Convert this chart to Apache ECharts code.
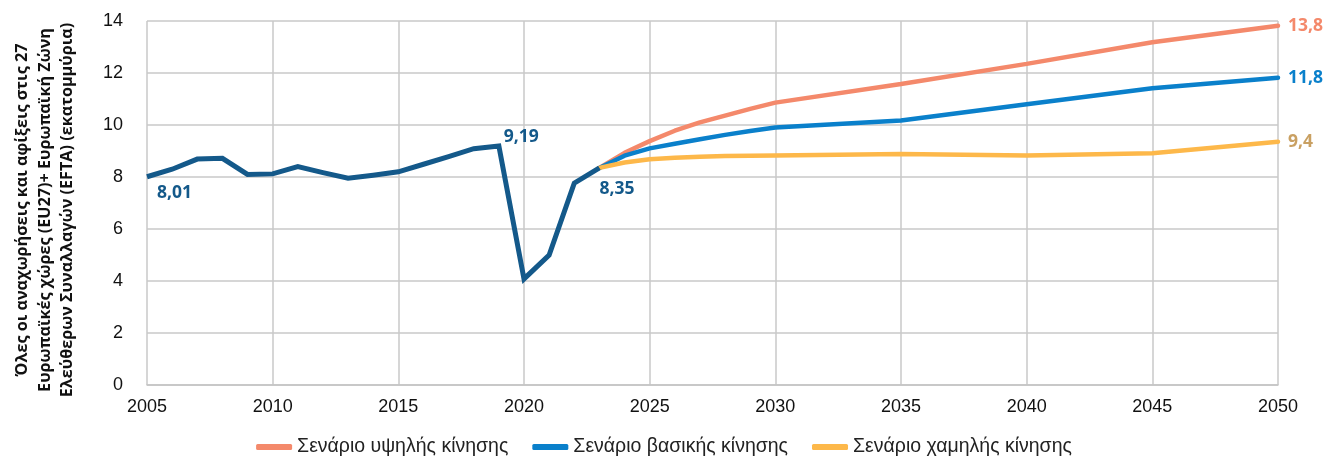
<!DOCTYPE html>
<html><head><meta charset="utf-8">
<script src="https://cdn.jsdelivr.net/npm/echarts@6/dist/echarts.min.js"></script>
<style>html,body{margin:0;padding:0;background:#fff}#c{width:1328px;height:462px}</style>
</head><body><div id="c"></div>
<script>
const histYears = [2005,2006,2007,2008,2009,2010,2011,2012,2013,2014,2015,2016,2017,2018,2019,2020,2021,2022,2023];
const histValues = [8.01,8.30,8.69,8.72,8.10,8.12,8.40,8.17,7.95,8.07,8.20,8.49,8.78,9.09,9.19,4.08,5.00,7.76,8.35];
const scenYears = [2023,2024,2025,2026,2027,2028,2029,2030,2035,2040,2045,2050];
const highValues = [8.35,8.93,9.38,9.78,10.10,10.36,10.62,10.86,11.58,12.35,13.18,13.82];
const baseValues = [8.35,8.82,9.10,9.28,9.45,9.62,9.77,9.90,10.17,10.80,11.41,11.82];
const lowValues  = [8.35,8.56,8.68,8.74,8.78,8.81,8.82,8.83,8.88,8.83,8.91,9.36];
const seriesNames = ['Σενάριο υψηλής κίνησης','Σενάριο βασικής κίνησης','Σενάριο χαμηλής κίνησης'];
const endLabels = ['13,8','11,8','9,4'];
const yTitle = ['Όλες οι αναχωρήσεις και αφίξεις στις 27','Ευρωπαϊκές χώρες (EU27)+ Ευρωπαϊκή Ζώνη','Ελεύθερων Συναλλαγών (EFTA) (εκατομμύρια)'];
const histLabelOffsets = {2005:[10,7],2019:[5,-18],2023:[0,12]};

const fmt = v => String(v).replace('.', ',');
const FONT = "'Liberation Sans', Arial, sans-serif";
const LBLFONT = "'Open Sans', sans-serif";
const HIST = '#14598A', HIGH = '#F4896B', BASE = '#0A80CB', LOW = '#FDB84A', LOWLBL = '#C9A062';

function histData(){
  return histYears.map((y,i)=>{
    const d = {value:[y,histValues[i]]};
    if (histLabelOffsets[y]) {
      d.label = {show:true, formatter: fmt(histValues[i].toFixed(2)), color:HIST, fontWeight:'bold', fontSize:17.5, fontFamily:LBLFONT,
        position: histLabelOffsets[y], align:'left'};
    }
    return d;
  });
}
function scenData(vals, color, lab){
  return scenYears.map((y,i)=>{
    const d = {value:[y,vals[i]]};
    if (i===vals.length-1) d.label = {show:true, position:'right', distance:10, formatter: lab, color:color, fontWeight:'bold', fontSize:17.5, fontFamily:LBLFONT};
    return d;
  });
}
const chart = echarts.init(document.getElementById('c'));
const lineCommon = {type:'line', showSymbol:true, symbol:'circle', symbolSize:0, z:3};
chart.setOption({
  animation:false,
  grid:{left:147, right:50, top:21, bottom:77},
  legend:{bottom:0, left:'center', itemWidth:36, itemHeight:6, itemGap:24, icon:'roundRect',
    textStyle:{fontFamily:FONT, fontSize:19.5, color:'#222'}, data:seriesNames},
  xAxis:{type:'value', min:2005, max:2050, interval:5,
    axisLine:{show:true, lineStyle:{color:'#C4C4C4', width:1.5}}, axisTick:{show:false},
    splitLine:{show:true, lineStyle:{color:'#C8C8C8', width:1.5}},
    axisLabel:{fontFamily:FONT, fontSize:18, color:'#111', margin:13, formatter:v=>String(v)}},
  yAxis:{type:'value', min:0, max:14, interval:2,
    axisLine:{show:false}, axisTick:{show:false},
    splitLine:{show:true, lineStyle:{color:'#C8C8C8', width:1.5}},
    axisLabel:{fontFamily:FONT, fontSize:18, color:'#111', margin:24}},
  graphic:[{type:'text', rotation:Math.PI/2,
    style:{text:yTitle.join('\n'), font:"bold 16.2px 'Open Sans', sans-serif", fill:'#111', lineHeight:22.5, textAlign:'center', textVerticalAlign:'middle'},
    x:45, y:210}],
  series:[
    Object.assign({}, lineCommon, {name:'hist', data:histData(), lineStyle:{width:5, color:HIST, join:'miter'}, itemStyle:{color:HIST}, z:4}),
    Object.assign({}, lineCommon, {name:seriesNames[0], data:scenData(highValues,HIGH,endLabels[0]), lineStyle:{width:4.5, color:HIGH, cap:'round'}, itemStyle:{color:HIGH}}),
    Object.assign({}, lineCommon, {name:seriesNames[1], data:scenData(baseValues,BASE,endLabels[1]), lineStyle:{width:4.5, color:BASE, cap:'round'}, itemStyle:{color:BASE}}),
    Object.assign({}, lineCommon, {name:seriesNames[2], data:scenData(lowValues,LOWLBL,endLabels[2]), lineStyle:{width:4.5, color:LOW, cap:'round'}, itemStyle:{color:LOW}})
  ]
});
</script></body></html>
